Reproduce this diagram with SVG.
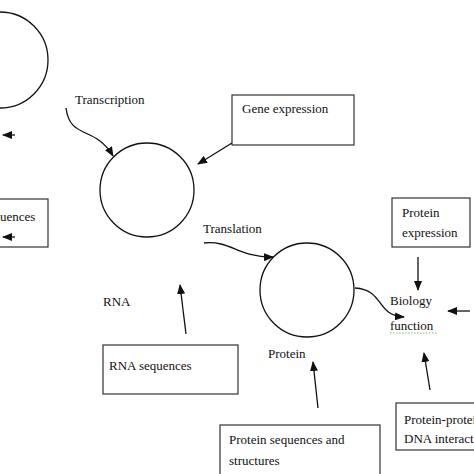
<svg xmlns="http://www.w3.org/2000/svg" width="474" height="474" viewBox="0 0 474 474">
<style>
text{font-family:"Liberation Serif",serif;font-size:13px;fill:#111}
.c{fill:none;stroke:#111;stroke-width:1.3}
.b{fill:#fff;stroke:#333;stroke-width:1.2}
.l{fill:none;stroke:#111;stroke-width:1.3;marker-end:url(#a)}
</style>
<defs><marker id="a" markerWidth="10" markerHeight="8" refX="9" refY="4" orient="auto" markerUnits="userSpaceOnUse"><path d="M0,0L10,4L0,8z" fill="#111"/></marker></defs>
<rect width="474" height="474" fill="#fff"/>
<g id="dna"><circle class="c" cx="0" cy="60" r="48"/></g>
<g id="dnaseq"><rect class="b" x="-5" y="199" width="53" height="48"/><text x="-48" y="221">DNA sequences</text></g>
<g id="rna"><circle class="c" cx="147" cy="190" r="47"/><text x="103" y="306">RNA</text></g>
<g id="protein"><circle class="c" cx="307" cy="290" r="47"/><text x="268" y="358">Protein</text></g>
<g id="gene"><rect class="b" x="232" y="95" width="122" height="50"/><text x="242" y="113">Gene expression</text></g>
<g id="transcription"><text x="75" y="104">Transcription</text></g>
<g id="translation"><text x="203" y="233">Translation</text></g>
<g id="pexp"><rect class="b" x="392" y="198" width="78" height="49"/><text x="402" y="217">Protein</text><text x="402" y="237">expression</text></g>
<g id="bio"><text x="390" y="305">Biology</text><text x="390" y="330">function</text><path d="M390,333H438" stroke="#6c6" stroke-width="1" stroke-dasharray="1.5,1.5"/></g>
<g id="rnaseq"><rect class="b" x="103" y="345" width="135" height="49"/><text x="109" y="370">RNA sequences</text></g>
<g id="pseq"><rect class="b" x="220" y="425" width="160" height="52"/><text x="229" y="444">Protein sequences and</text><text x="229" y="465">structures</text></g>
<g id="ppi"><rect class="b" x="396" y="403" width="82" height="47"/><text x="404" y="424">Protein-protein</text><text x="404" y="443">DNA interaction</text></g>
<g id="connectors">
<path class="l" d="M15,135H3"/>
<path class="l" d="M15,237H3"/>
<path class="l" d="M66,108C70,140 95,125 113,156"/>
<path class="l" d="M232,143L198,164"/>
<path class="l" d="M204,243C230,240 240,258 273,257"/>
<path class="l" d="M355,288C385,290 375,315 404,317"/>
<path class="l" d="M418,257V290"/>
<path class="l" d="M470,311H448"/>
<path class="l" d="M430,390L424,353"/>
<path class="l" d="M318,408L313,362"/>
<path class="l" d="M186,334L180,285"/>
</g>
</svg>
